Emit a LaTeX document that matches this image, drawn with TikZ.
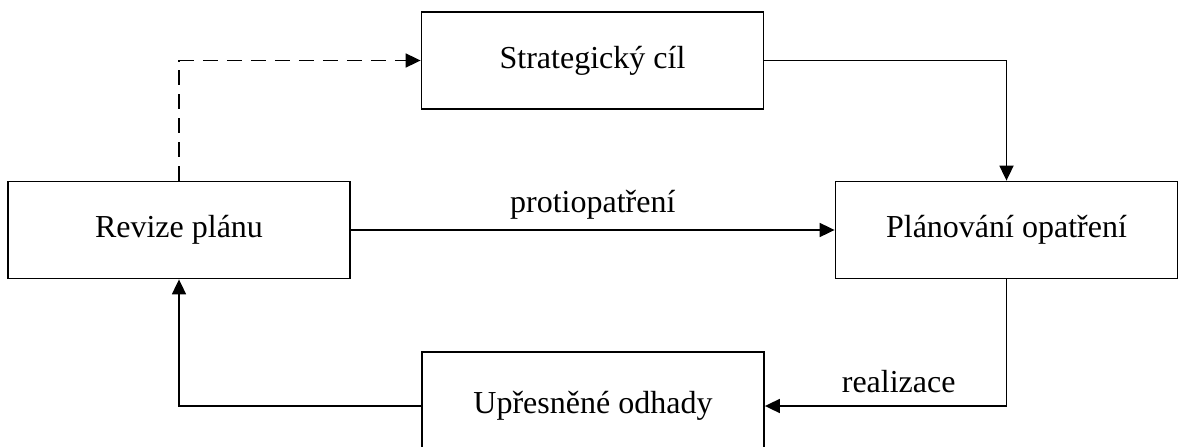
\documentclass[tikz,border=0pt]{standalone}
\usepackage{fontspec}
\setmainfont{Liberation Serif}
\usetikzlibrary{arrows.meta}
\begin{document}
\begin{tikzpicture}[x=1pt,y=-1pt,
  box/.style={draw, line width=1.8pt, rectangle, minimum width=342pt, minimum height=97pt, inner sep=0pt, font=\fontsize{32}{38}\selectfont},
  lbl/.style={font=\fontsize{32}{38}\selectfont, inner sep=0pt},
  conn/.style={line width=1.8pt, -{Triangle[length=15pt,width=14pt]}},
  dashconn/.style={conn, dash pattern=on 15pt off 9pt}]
  \useasboundingbox (0,0) rectangle (1179,447);
  % process boxes
  \node[box] (cil)  at (592.5,60.5) {Strategický cíl};
  \node[box] (rev)  at (179,230) {Revize plánu};
  \node[box] (plan) at (1006.5,230) {Plánování opatření};
  \node[box, minimum height=108pt] (odh) at (593,406) {Upřesněné odhady};
  % connectors
  \draw[dashconn] (rev.north) |- (cil.west);
  \draw[conn] (cil.east) -| (plan.north);
  \draw[conn] (rev.east) -- node[lbl, above=10pt] (lp) {protiopatření} (plan.west);
  \draw[conn] (plan.south) |- node[lbl, pos=0.75, above=12pt, xshift=13pt] (lr) {realizace} (odh.east);
  \draw[conn] (odh.west) -| (rev.south);
\end{tikzpicture}
\end{document}
